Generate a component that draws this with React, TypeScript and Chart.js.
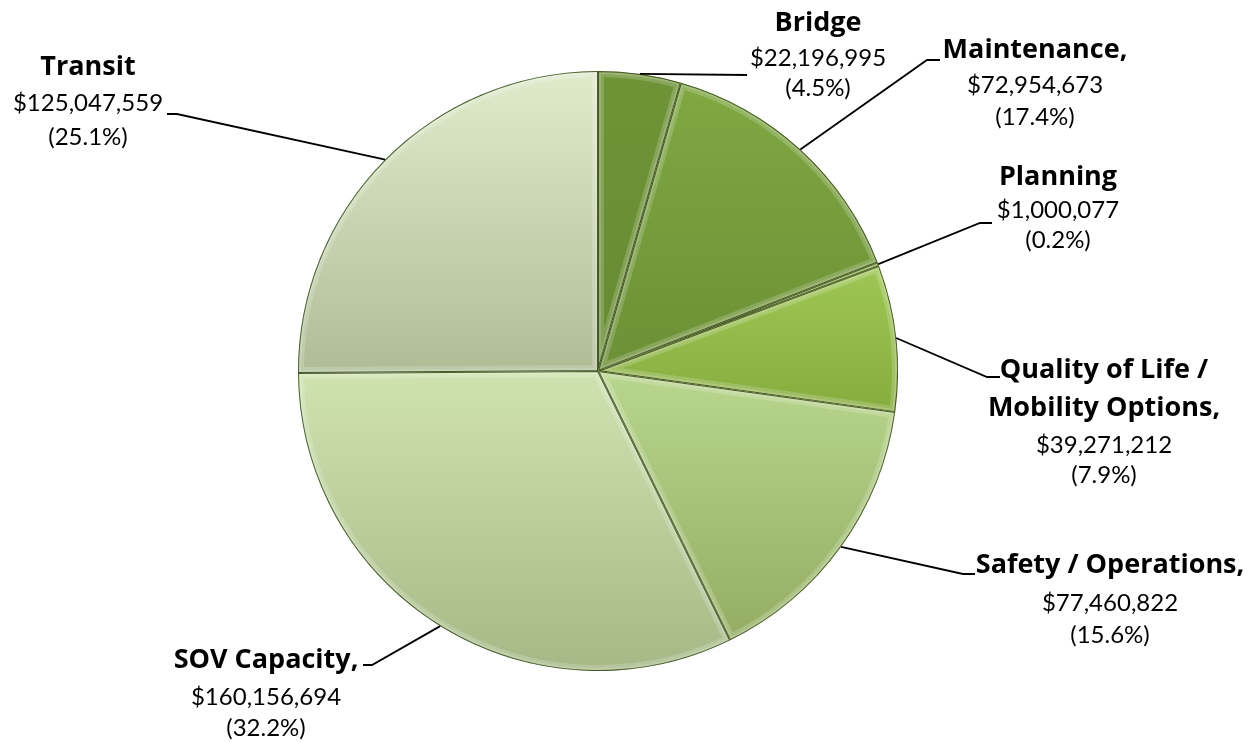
import React, { useEffect, useRef } from "react";
import { Chart, registerables } from "chart.js";

Chart.register(...registerables);

// ---- data ----
const categories: string[] = [
  "Bridge",
  "Maintenance",
  "Planning",
  "Quality of Life / Mobility Options",
  "Safety / Operations",
  "SOV Capacity",
  "Transit",
];
const values: number[] = [22196995, 72954673, 1000077, 39271212, 77460822, 160156694, 125047559];
const percentLabels: string[] = ["(4.5%)", "(17.4%)", "(0.2%)", "(7.9%)", "(15.6%)", "(32.2%)", "(25.1%)"];
const titleLines: string[][] = [
  ["Bridge"],
  ["Maintenance,"],
  ["Planning"],
  ["Quality of Life /", "Mobility Options,"],
  ["Safety / Operations,"],
  ["SOV Capacity,"],
  ["Transit"],
];

// ---- styles / layout ----
const topColors = ["#6f9437", "#7fa842", "#8fb84a", "#9fc755", "#b8d68e", "#cfe3b0", "#e0ebcc"];
const bottomColors = ["#668a32", "#6c9036", "#86ad45", "#86ac3e", "#93ae62", "#a6b886", "#aebd96"];

// elbow point, end of short horizontal tick, text centre x, line centres y
const labelLayout = [
  { ex: 747, ey: 75, hx: 747, cx: 818, ys: [23, 58, 88] },
  { ex: 927, ey: 60, hx: 940, cx: 1035, ys: [50, 85, 117] },
  { ex: 980, ey: 223, hx: 992, cx: 1058, ys: [177, 210, 240] },
  { ex: 987, ey: 377, hx: 1000, cx: 1104, ys: [370, 408, 445, 475] },
  { ex: 963, ey: 574, hx: 975, cx: 1110, ys: [565, 603, 635] },
  { ex: 372, ey: 665, hx: 363, cx: 266, ys: [660, 697, 728] },
  { ex: 177, ey: 114, hx: 167, cx: 88, ys: [67, 103, 137] },
];

const BOLD_FONT = "bold 27px 'Open Sans'";
const REG_FONT = "24px Lato";

function sliceYExtent(i: number, cy: number, r: number): [number, number] {
  const total = values.reduce((a, b) => a + b, 0);
  let before = 0;
  for (let k = 0; k < i; k++) before += values[k];
  const a0 = -Math.PI / 2 + (before / total) * Math.PI * 2;
  const a1 = a0 + (values[i] / total) * Math.PI * 2;
  const ys = [cy, cy + Math.sin(a0) * r, cy + Math.sin(a1) * r];
  const candidates = [Math.PI / 2, (3 * Math.PI) / 2, -Math.PI / 2];
  for (const c of candidates) {
    if (c >= a0 && c <= a1) ys.push(cy + Math.sin(c) * r);
  }
  return [Math.min(...ys), Math.max(...ys)];
}

const bevelPlugin = {
  id: "bevel",
  afterDatasetsDraw(chart: any) {
    const ctx = chart.ctx;
    const meta = chart.getDatasetMeta(0);
    meta.data.forEach((arc: any) => {
      const { x, y, startAngle, endAngle, outerRadius } = arc.getProps(
        ["x", "y", "startAngle", "endAngle", "outerRadius"],
        true
      );
      ctx.save();
      ctx.beginPath();
      ctx.moveTo(x, y);
      ctx.arc(x, y, outerRadius, startAngle, endAngle);
      ctx.closePath();
      ctx.clip();
      ctx.lineJoin = "round";
      ctx.strokeStyle = "rgba(255,255,255,0.18)";
      ctx.lineWidth = 12;
      ctx.stroke();
      ctx.strokeStyle = "rgba(255,255,255,0.16)";
      ctx.lineWidth = 6;
      ctx.stroke();
      ctx.strokeStyle = "rgba(50,70,20,0.85)";
      ctx.lineWidth = 2;
      ctx.stroke();
      ctx.restore();
    });
  },
};

const labelPlugin = {
  id: "leaderLabels",
  afterDraw(chart: any) {
    const ctx = chart.ctx;
    const meta = chart.getDatasetMeta(0);
    meta.data.forEach((arc: any, i: number) => {
      const { x, y, startAngle, endAngle, outerRadius } = arc.getProps(
        ["x", "y", "startAngle", "endAngle", "outerRadius"],
        true
      );
      const mid = (startAngle + endAngle) / 2;
      const px = x + Math.cos(mid) * outerRadius;
      const py = y + Math.sin(mid) * outerRadius;
      const L = labelLayout[i];
      ctx.save();
      ctx.strokeStyle = "#000";
      ctx.lineWidth = 1.8;
      ctx.beginPath();
      ctx.moveTo(px, py);
      ctx.lineTo(L.ex, L.ey);
      ctx.lineTo(L.hx, L.ey);
      ctx.stroke();

      ctx.fillStyle = "#000";
      ctx.textAlign = "center";
      ctx.textBaseline = "middle";
      const lines: { t: string; bold: boolean }[] = [];
      titleLines[i].forEach((t) => lines.push({ t, bold: true }));
      lines.push({ t: "$" + values[i].toLocaleString("en-US"), bold: false });
      lines.push({ t: percentLabels[i], bold: false });
      lines.forEach((ln, k) => {
        ctx.font = ln.bold ? BOLD_FONT : REG_FONT;
        ctx.fillText(ln.t, L.cx, L.ys[k]);
      });
      ctx.restore();
    });
  },
};

export default function App() {
  const ref = useRef<HTMLCanvasElement | null>(null);
  useEffect(() => {
    if (!ref.current) return;
    const chart = new Chart(ref.current, {
      type: "pie",
      data: {
        labels: categories,
        datasets: [
          {
            data: values,
            borderWidth: 0,
            backgroundColor: (c: any) => {
              const chartObj = c.chart;
              const area = chartObj.chartArea;
              const i = c.dataIndex;
              if (!area || i === undefined) return topColors[i ?? 0];
              const cy = (area.top + area.bottom) / 2;
              const r = Math.min(area.right - area.left, area.bottom - area.top) / 2;
              const [y0, y1] = sliceYExtent(i, cy, r);
              const g = chartObj.ctx.createLinearGradient(0, y0, 0, y1);
              g.addColorStop(0, topColors[i]);
              g.addColorStop(1, bottomColors[i]);
              return g;
            },
          },
        ],
      },
      options: {
        responsive: false,
        animation: false,
        devicePixelRatio: 1,
        layout: { padding: { left: 298, right: 351, top: 71, bottom: 71 } },
        plugins: {
          legend: { display: false },
          tooltip: { enabled: false },
        },
      },
      plugins: [bevelPlugin, labelPlugin],
    } as any);
    return () => chart.destroy();
  }, []);
  return (
    <div style={{ position: "fixed", left: 0, top: 0, width: 1249, height: 742, background: "#fff" }}>
      <canvas ref={ref} width={1249} height={742} />
    </div>
  );
}
